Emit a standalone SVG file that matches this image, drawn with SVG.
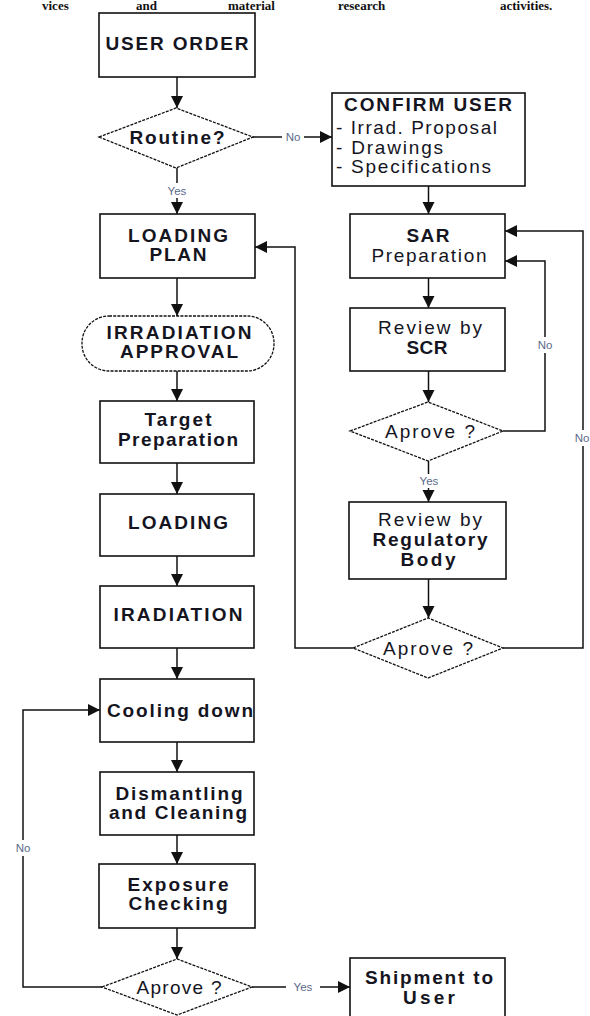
<svg xmlns="http://www.w3.org/2000/svg" width="590" height="1016" viewBox="0 0 590 1016">
<style>
.box{fill:#fff;stroke:#111;stroke-width:1.6}
.dia{fill:#fff;stroke:#111;stroke-width:1.3;stroke-dasharray:3 1.2}
.t{font-family:"Liberation Sans",Arial,sans-serif;font-size:19px;fill:#15151f;text-anchor:middle}
.b{font-weight:bold}
.l{text-anchor:start}
.lab{font-family:"Liberation Sans",Arial,sans-serif;font-size:11.5px;fill:#5a6a8a;text-anchor:middle}
.top{font-family:"Liberation Serif","Times New Roman",serif;font-size:13px;font-weight:bold;fill:#111}
.c{fill:none;stroke:#111;stroke-width:1.5}
</style>
<defs>
<marker id="ah" markerUnits="userSpaceOnUse" markerWidth="14" markerHeight="14" viewBox="0 0 14 14" refX="13" refY="7" orient="auto">
<path d="M1,1 L13,7 L1,13 Z" fill="#111"/>
</marker>
</defs>
<rect width="590" height="1016" fill="#fff"/>
<g id="header-text">
<text class="top" x="42" y="10">vices</text>
<text class="top" x="136" y="10">and</text>
<text class="top" x="228" y="10">material</text>
<text class="top" x="338" y="10">research</text>
<text class="top" x="500" y="10">activities.</text>
</g>
<g id="connectors">
<line class="c" x1="177" y1="77" x2="177" y2="108" marker-end="url(#ah)"/>
<line class="c" x1="177" y1="168" x2="177" y2="183"/>
<line class="c" x1="177" y1="198" x2="177" y2="214" marker-end="url(#ah)"/>
<line class="c" x1="253" y1="137" x2="282" y2="137"/>
<line class="c" x1="304" y1="137" x2="332" y2="137" marker-end="url(#ah)"/>
<line class="c" x1="177" y1="278" x2="177" y2="316" marker-end="url(#ah)"/>
<line class="c" x1="177" y1="371" x2="177" y2="401" marker-end="url(#ah)"/>
<line class="c" x1="177" y1="463" x2="177" y2="494" marker-end="url(#ah)"/>
<line class="c" x1="177" y1="556" x2="177" y2="586" marker-end="url(#ah)"/>
<line class="c" x1="177" y1="648" x2="177" y2="679" marker-end="url(#ah)"/>
<line class="c" x1="177" y1="742" x2="177" y2="772" marker-end="url(#ah)"/>
<line class="c" x1="177" y1="835" x2="177" y2="864" marker-end="url(#ah)"/>
<line class="c" x1="177" y1="928" x2="177" y2="959" marker-end="url(#ah)"/>
<line class="c" x1="252" y1="987" x2="286" y2="987"/>
<line class="c" x1="320" y1="987" x2="350" y2="987" marker-end="url(#ah)"/>
<polyline class="c" points="102,987 23,987 23,856"/>
<polyline class="c" points="23,840 23,710 100,710" marker-end="url(#ah)"/>
<line class="c" x1="428.5" y1="186" x2="428.5" y2="214" marker-end="url(#ah)"/>
<line class="c" x1="428.5" y1="278" x2="428.5" y2="308" marker-end="url(#ah)"/>
<line class="c" x1="428.5" y1="371" x2="428.5" y2="402" marker-end="url(#ah)"/>
<line class="c" x1="428.5" y1="461" x2="428.5" y2="474"/>
<line class="c" x1="428.5" y1="488" x2="428.5" y2="502" marker-end="url(#ah)"/>
<line class="c" x1="428.5" y1="579" x2="428.5" y2="618" marker-end="url(#ah)"/>
<polyline class="c" points="503,431 545,431 545,353"/>
<polyline class="c" points="545,337 545,261 505,261" marker-end="url(#ah)"/>
<polyline class="c" points="503,648 583,648 583,446"/>
<polyline class="c" points="583,430 583,231 505,231" marker-end="url(#ah)"/>
<polyline class="c" points="353,648 295,648 295,247 255,247" marker-end="url(#ah)"/>
<text class="lab" x="177" y="195">Yes</text>
<text class="lab" x="293" y="141">No</text>
<text class="lab" x="303" y="991">Yes</text>
<text class="lab" x="23" y="852">No</text>
<text class="lab" x="429" y="485">Yes</text>
<text class="lab" x="545" y="349">No</text>
<text class="lab" x="582" y="442">No</text>
</g>
<g id="user-order"><rect class="box" x="99" y="13" width="156" height="64"/><text class="t b" x="177" y="50" textLength="143" lengthAdjust="spacing">USER ORDER</text></g>
<g id="routine"><polygon class="dia" points="99,137 176,108 253,137 176,168"/><text class="t b" x="177" y="144" textLength="95" lengthAdjust="spacing">Routine?</text></g>
<g id="confirm-user"><rect class="box" x="332" y="93" width="193" height="93"/>
<text class="t b" x="428" y="111" textLength="168" lengthAdjust="spacing">CONFIRM USER</text>
<text class="t l" x="336" y="134" textLength="161" lengthAdjust="spacing">- Irrad. Proposal</text>
<text class="t l" x="336" y="154" textLength="107" lengthAdjust="spacing">- Drawings</text>
<text class="t l" x="336" y="173" textLength="155" lengthAdjust="spacing">- Specifications</text></g>
<g id="loading-plan"><rect class="box" x="100" y="214" width="155" height="64"/>
<text class="t b" x="178" y="242" textLength="100" lengthAdjust="spacing">LOADING</text>
<text class="t b" x="178" y="261" textLength="57" lengthAdjust="spacing">PLAN</text></g>
<g id="irradiation-approval"><rect class="dia" x="82" y="316" width="192" height="55" rx="27" ry="27"/>
<text class="t b" x="179" y="339" textLength="145" lengthAdjust="spacing">IRRADIATION</text>
<text class="t b" x="179" y="358" textLength="118" lengthAdjust="spacing">APPROVAL</text></g>
<g id="target-preparation"><rect class="box" x="100" y="401" width="154" height="62"/>
<text class="t b" x="178" y="426" textLength="67" lengthAdjust="spacing">Target</text>
<text class="t b" x="178" y="446" textLength="120" lengthAdjust="spacing">Preparation</text></g>
<g id="loading"><rect class="box" x="100" y="494" width="154" height="62"/>
<text class="t b" x="178" y="529" textLength="100" lengthAdjust="spacing">LOADING</text></g>
<g id="iradiation"><rect class="box" x="100" y="586" width="154" height="62"/>
<text class="t b" x="178" y="621" textLength="129" lengthAdjust="spacing">IRADIATION</text></g>
<g id="cooling-down"><rect class="box" x="100" y="679" width="154" height="63"/>
<text class="t b l" x="107" y="717" textLength="146" lengthAdjust="spacing">Cooling down</text></g>
<g id="dismantling"><rect class="box" x="100" y="772" width="154" height="63"/>
<text class="t b" x="179" y="800" textLength="127" lengthAdjust="spacing">Dismantling</text>
<text class="t b" x="178" y="819" textLength="138" lengthAdjust="spacing">and Cleaning</text></g>
<g id="exposure-checking"><rect class="box" x="99" y="864" width="156" height="64"/>
<text class="t b" x="178" y="891" textLength="101" lengthAdjust="spacing">Exposure</text>
<text class="t b" x="178" y="910" textLength="99" lengthAdjust="spacing">Checking</text></g>
<g id="aprove-final"><polygon class="dia" points="102,987 177,959 252,987 177,1015"/>
<text class="t" x="179" y="994" textLength="85" lengthAdjust="spacing">Aprove ?</text></g>
<g id="shipment"><rect class="box" x="350" y="958" width="155" height="70"/>
<text class="t b" x="429" y="984" textLength="128" lengthAdjust="spacing">Shipment to</text>
<text class="t b" x="429" y="1004" textLength="52" lengthAdjust="spacing">User</text></g>
<g id="sar-preparation"><rect class="box" x="350" y="214" width="155" height="64"/>
<text class="t b" x="428" y="242" textLength="43" lengthAdjust="spacing">SAR</text>
<text class="t" x="429" y="262" textLength="115" lengthAdjust="spacing">Preparation</text></g>
<g id="review-scr"><rect class="box" x="350" y="308" width="155" height="63"/>
<text class="t" x="430" y="334" textLength="104" lengthAdjust="spacing">Review by</text>
<text class="t b" x="427" y="354" textLength="41" lengthAdjust="spacing">SCR</text></g>
<g id="aprove-scr"><polygon class="dia" points="350,431 428,402 503,431 428,461"/>
<text class="t" x="430" y="438" textLength="90" lengthAdjust="spacing">Aprove ?</text></g>
<g id="review-regulatory"><rect class="box" x="349" y="502" width="157" height="77"/>
<text class="t" x="430" y="526" textLength="104" lengthAdjust="spacing">Review by</text>
<text class="t b" x="430" y="546" textLength="115" lengthAdjust="spacing">Regulatory</text>
<text class="t b" x="428" y="566" textLength="55" lengthAdjust="spacing">Body</text></g>
<g id="aprove-regulatory"><polygon class="dia" points="353,648 428,618 503,648 428,678"/>
<text class="t" x="428" y="655" textLength="90" lengthAdjust="spacing">Aprove ?</text></g>
</svg>
